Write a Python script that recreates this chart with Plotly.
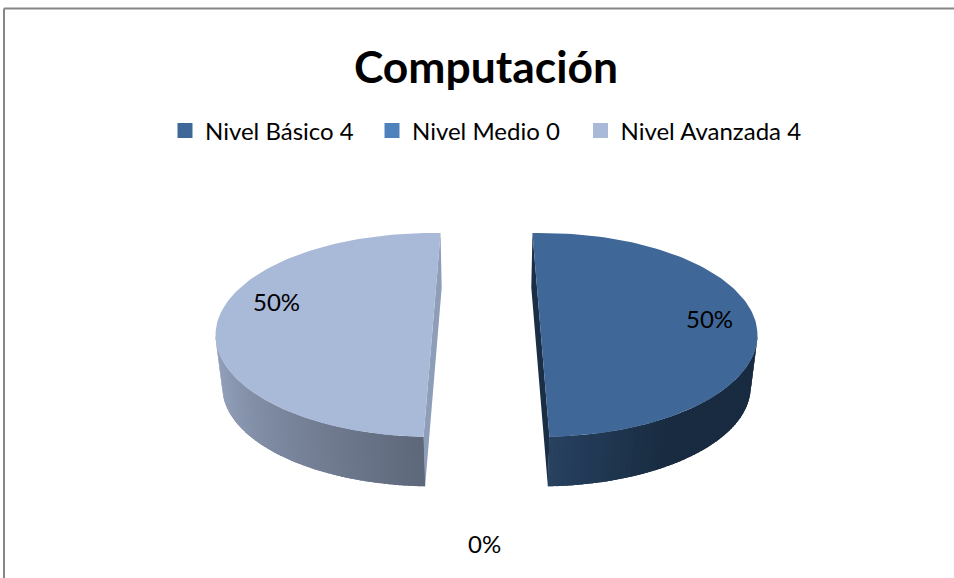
import math
import plotly.graph_objects as go

# --- data ---
categories = ["Nivel Básico 4", "Nivel Medio 0", "Nivel Avanzada 4"]
values = [4, 0, 4]
title_text = "Computación"

# --- style / layout constants ---
W, H = 954, 578
top_colors = ["#3F6899", "#4F81BD", "#A9B9D8"]
cut_colors = ["#1A2E45", "#2A4564", "#8E9DB8"]
side_left = [(0x27, 0x41, 0x60), (0x30, 0x50, 0x78), (0x5E, 0x67, 0x7A)]   # colour at the cut
side_far = [(0x18, 0x2B, 0x40), (0x25, 0x40, 0x60), (0x99, 0xA8, 0xC3)]    # colour at the rim end
CX, CY = 486.5, 335
RX, RY = 216.5, 102
DEPTH = 52
PERSP = 0.975
EXPLODE = 54.5
ROTATION = -2.25
SKEW = 4.5          # perspective tilt of the slices on the left half
label_pos = [(709, 318), (484, 543), (276, 301)]
legend_x = [165, 372, 580.5]


def top_pt(ax, ang, r=1.0):
    t = math.radians(ang)
    return ax + RX * r * math.sin(t), CY - RY * r * math.cos(t)


def bot_pt(ax, ang, r=1.0):
    bx = CX + (ax - CX) * PERSP
    t = math.radians(ang)
    return bx + RX * PERSP * r * math.sin(t), CY + DEPTH - RY * PERSP * r * math.cos(t)


def mix(a, b, f):
    return "rgb(%d,%d,%d)" % tuple(round(a[i] + (b[i] - a[i]) * f) for i in range(3))


def poly(pts, color):
    fig.add_trace(go.Scatter(
        x=[p[0] for p in pts] + [pts[0][0]], y=[p[1] for p in pts] + [pts[0][1]],
        mode="lines", fill="toself", fillcolor=color, line=dict(width=0),
        showlegend=False, hoverinfo="skip"))


fig = go.Figure()
total = sum(values)
pcts = [f"{round(v / total * 100)}%" for v in values]

start = ROTATION
spans = []
for v in values:
    sweep = v / total * 360
    mid = start + sweep / 2
    ax = CX + EXPLODE * math.sin(math.radians(mid))
    skew = SKEW if mid > 180 else 0
    spans.append((start + skew, sweep, ax))
    start += sweep

# cut faces and rim, then top faces
for i, (a0, sweep, ax) in enumerate(spans):
    if sweep == 0:
        continue
    a1 = a0 + sweep
    poly([top_pt(ax, a0), top_pt(ax, a0, 0), top_pt(ax, a1), bot_pt(ax, a1),
          bot_pt(ax, a1, 0), bot_pt(ax, a0)], cut_colors[i])
    lo, hi = max(a0, 90), min(a1, 270)
    left_half = a1 > 270
    n = 64
    # solid underlay keeps the outline of the rim smooth
    under = [top_pt(ax, lo + (hi - lo) * k / n) for k in range(n + 1)] + \
            [bot_pt(ax, hi - (hi - lo) * k / n) for k in range(n + 1)]
    poly(under, mix(side_left[i], side_far[i], 0.6))
    for k in range(n):
        s0 = lo + (hi - lo) * k / n
        s1 = min(hi, lo + (hi - lo) * (k + 1.3) / n)
        f = (k + 0.5) / n
        g = f if left_half else min(1, (1 - f) * 2.6)
        poly([top_pt(ax, s0), top_pt(ax, s1), bot_pt(ax, s1), bot_pt(ax, s0)],
             mix(side_left[i], side_far[i], g))

for i, (a0, sweep, ax) in enumerate(spans):
    if sweep == 0:
        continue
    steps = 120
    poly([top_pt(ax, a0, 0)] + [top_pt(ax, a0 + sweep * k / steps) for k in range(steps + 1)],
         top_colors[i])

# legend keys, each in its own legend box so they can be placed exactly
legend_ids = ["legend", "legend2", "legend3"]
for name, col, lid in zip(categories, top_colors, legend_ids):
    fig.add_trace(go.Scatter(
        x=[None], y=[None], mode="markers", name=name, legend=lid, showlegend=True,
        marker=dict(symbol="square", size=15, color=col)))

for (x, y), txt in zip(label_pos, pcts):
    fig.add_annotation(x=x, y=y, text=txt, showarrow=False,
                       font=dict(family="Lato", size=24, color="#000000"),
                       xanchor="center", yanchor="middle")

# chart frame
fig.add_shape(type="line", x0=4, x1=4, y0=8.5, y1=H, line=dict(color="#868686", width=2))
fig.add_shape(type="line", x0=4, x1=W, y0=8.5, y1=8.5, line=dict(color="#868686", width=2))


def legend_box(x):
    return dict(orientation="h", x=x / W, xanchor="left", y=1 - 131 / H, yanchor="middle",
                font=dict(family="Lato", size=24, color="#000000"),
                bgcolor="rgba(0,0,0,0)", itemclick=False, itemdoubleclick=False)


fig.update_layout(
    width=W, height=H, margin=dict(l=0, r=0, t=0, b=0),
    paper_bgcolor="#FFFFFF", plot_bgcolor="#FFFFFF",
    xaxis=dict(range=[0, W], visible=False, fixedrange=True),
    yaxis=dict(range=[H, 0], visible=False, fixedrange=True),
    title=dict(text=f"<b>{title_text}</b>", x=486 / W, xanchor="center", xref="paper",
               y=1 - 67 / H, yanchor="middle", yref="paper",
               font=dict(family="Lato", size=44.4, color="#000000")),
    legend=legend_box(legend_x[0]),
    legend2=legend_box(legend_x[1]),
    legend3=legend_box(legend_x[2]),
)

fig.write_html("out.html", post_script="document.body.style.margin='0';",
               config={"displayModeBar": False})
